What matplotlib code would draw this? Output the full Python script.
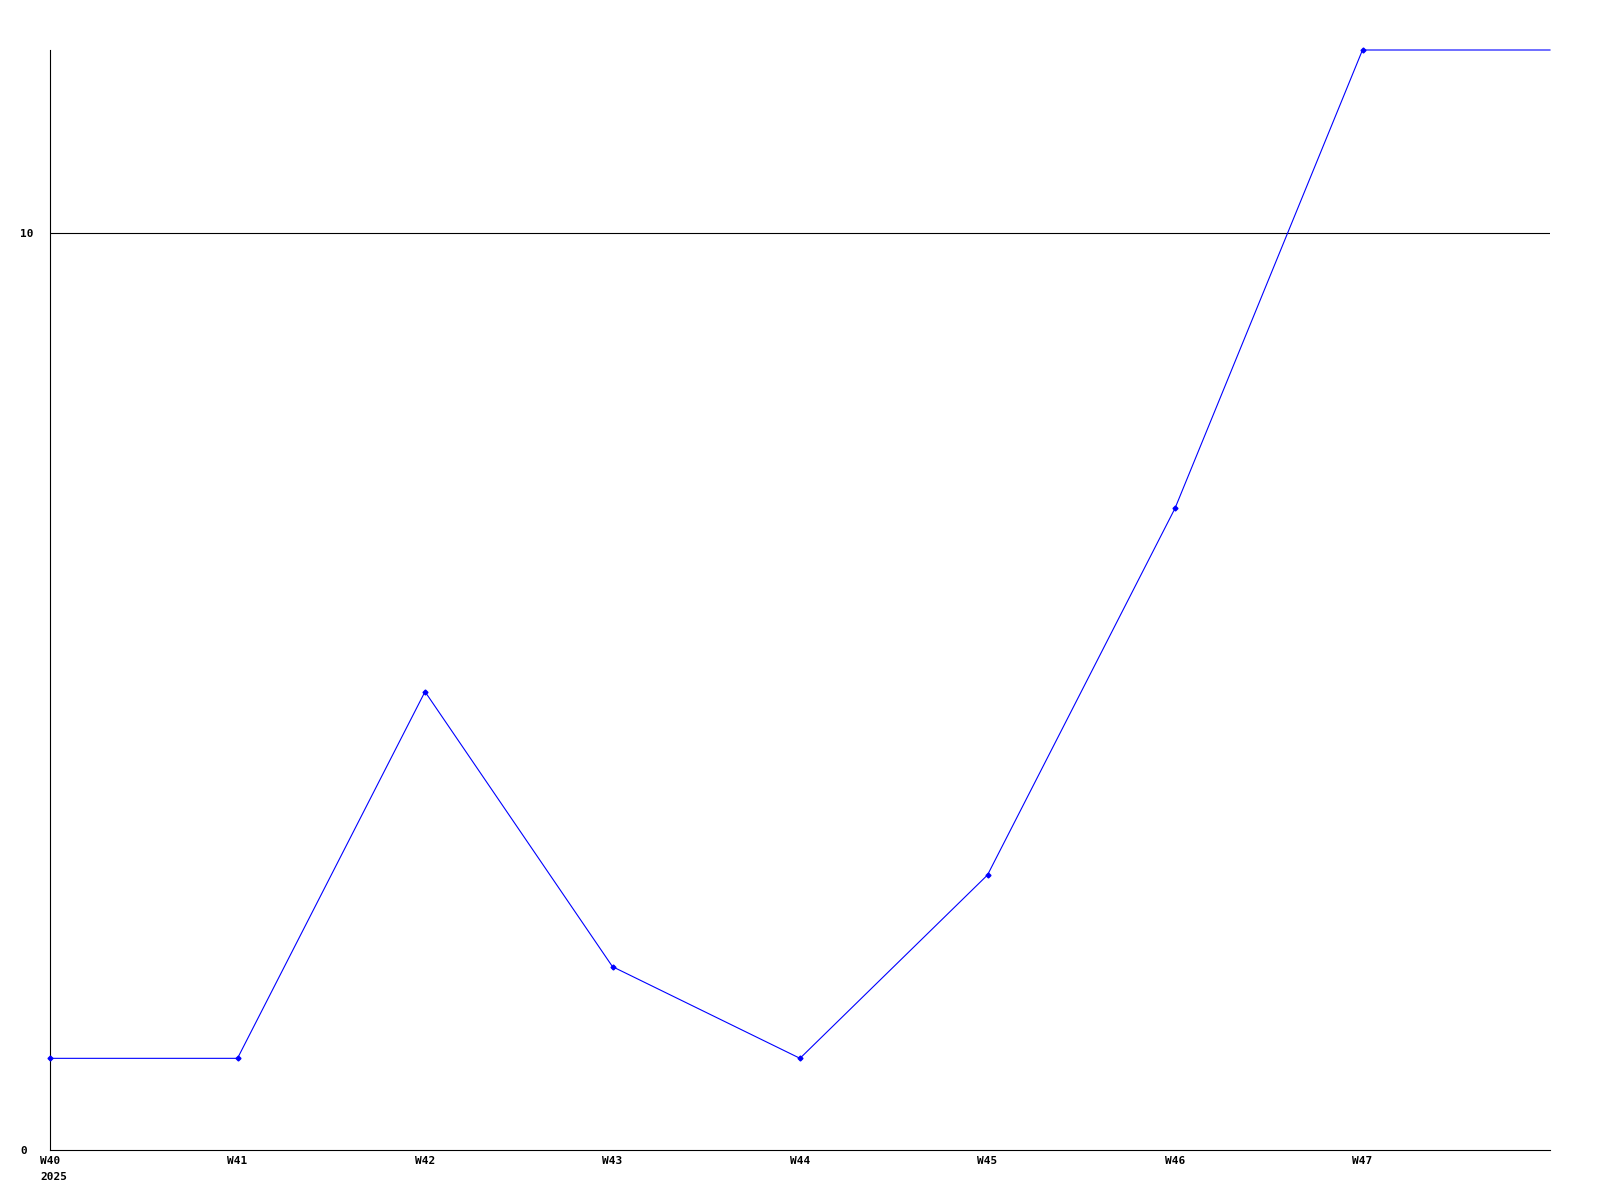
import matplotlib
matplotlib.use("Agg")
import matplotlib.pyplot as plt

weeks = ["W40", "W41", "W42", "W43", "W44", "W45", "W46", "W47", "W48"]
values = [1, 1, 5, 2, 1, 3, 7, 12, 12]
year = "2025"

plt.rcParams['font.family'] = ['DejaVu Sans Mono']

fig = plt.figure(figsize=(16, 12), dpi=100)
ax = fig.add_axes([50 / 1600, 1 - 1150 / 1200, 1500 / 1600, 1100 / 1200])

x = list(range(len(weeks)))
ax.plot(x, values, color='#0000ff', lw=0.8, marker='D', markersize=2.5,
        markevery=list(range(len(weeks) - 1)), zorder=3, clip_on=False)

ax.set_xlim(0, len(weeks) - 1)
ax.set_ylim(0, 12)
ax.axhline(10, color='black', lw=0.8, zorder=1)

ax.set_yticks([0, 10])
ax.set_yticklabels(["0", "10"], fontsize=8, fontweight='bold', ha='left')
ax.set_xticks(x[:-1])
ax.set_xticklabels(weeks[:-1], fontsize=8, fontweight='bold')
ax.tick_params(axis='both', length=0)
ax.tick_params(axis='y', pad=21.6)
ax.tick_params(axis='x', pad=4.5)
ax.annotate(year, xy=(0, 0), xycoords='data', xytext=(-10, -22),
            textcoords='offset pixels', fontsize=8, fontweight='bold',
            ha='left', va='top', annotation_clip=False)

for s in ['top', 'right']:
    ax.spines[s].set_visible(False)
for s in ['left', 'bottom']:
    ax.spines[s].set_linewidth(0.8)

fig.savefig("out.png", dpi=100)
